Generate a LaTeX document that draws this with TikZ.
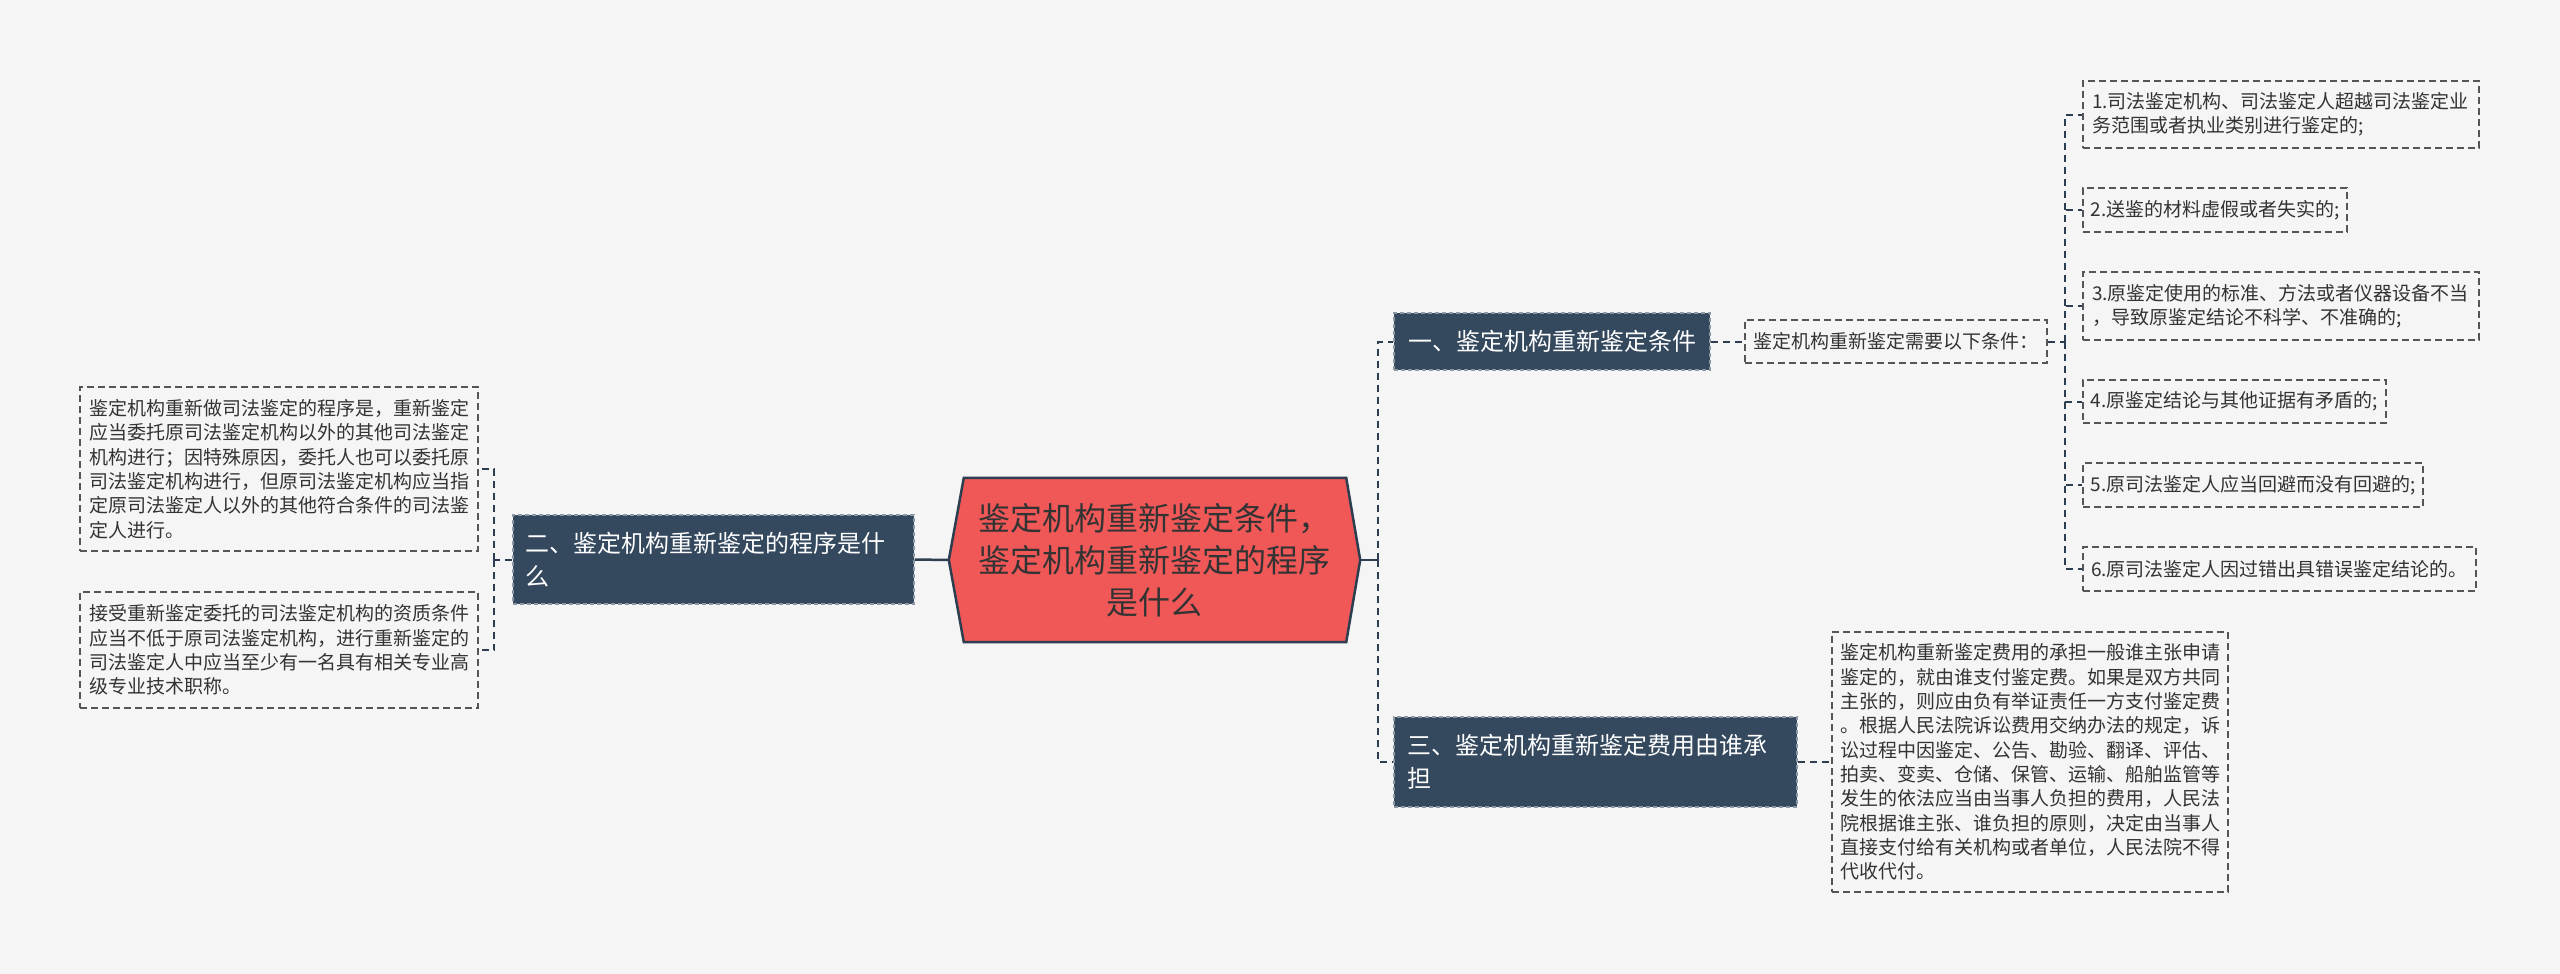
\documentclass[tikz,border=0pt]{standalone}
\usepackage{fontspec}
\newfontfamily\cjk{Noto Sans CJK SC}
\usetikzlibrary{backgrounds}
\definecolor{bgc}{RGB}{245,245,245}
\definecolor{darkfill}{RGB}{52,72,94}
\definecolor{darkline}{RGB}{140,152,166}
\definecolor{redfill}{RGB}{240,88,88}
\definecolor{linec}{RGB}{44,62,80}
\definecolor{leafline}{RGB}{85,85,85}
\definecolor{txt}{RGB}{51,51,51}
\begin{document}
\begin{tikzpicture}[x=1pt,y=-1pt,
  leaf/.style={draw=leafline, line width=1.4pt, dash pattern=on 7pt off 4pt,
    font=\cjk\fontsize{19}{24.3}\selectfont, text=txt, inner sep=0pt, align=left},
  dark/.style={fill=darkfill, draw=darkline, line width=1.2pt, dash pattern=on 4pt off 3pt,
    font=\cjk\fontsize{24}{33}\selectfont, text=white, inner sep=0pt, align=left},
  conn/.style={draw=linec, line width=2pt, dash pattern=on 7pt off 5pt},
  solidc/.style={draw=linec, line width=2.5pt}]
\begin{pgfonlayer}{background}
\fill[bgc] (0,0) rectangle (2560,974);
\end{pgfonlayer}
\useasboundingbox (0,0) rectangle (2560,974);

% center
\node[minimum width=411pt, minimum height=164pt, inner sep=0pt, align=center,
  font=\cjk\fontsize{32}{42}\selectfont, text=txt] (c) at (1154.5,560)
  {鉴定机构重新鉴定条件，\\鉴定机构重新鉴定的程序\\是什么};
\begin{pgfonlayer}{background}
\draw[linec, line width=2.5pt, fill=redfill, line join=miter]
  (c.west) -- ([xshift=15pt]c.north west) -- ([xshift=-14pt]c.north east) -- (c.east)
  -- ([xshift=-14pt]c.south east) -- ([xshift=15pt]c.south west) -- cycle;
\end{pgfonlayer}

% left branch
\node[dark, minimum width=401pt, minimum height=89pt, text width=377pt] (n2) at (713.5,559.5)
  {二、鉴定机构重新鉴定的程序是什\\么};
\node[leaf, minimum width=398pt, minimum height=164pt, text width=380pt] (l1) at (279,469)
  {鉴定机构重新做司法鉴定的程序是，重新鉴定\\应当委托原司法鉴定机构以外的其他司法鉴定\\机构进行；因特殊原因，委托人也可以委托原\\司法鉴定机构进行，但原司法鉴定机构应当指\\定原司法鉴定人以外的其他符合条件的司法鉴\\定人进行。};
\node[leaf, minimum width=398pt, minimum height=116pt, text width=380pt] (l2) at (279,650)
  {接受重新鉴定委托的司法鉴定机构的资质条件\\应当不低于原司法鉴定机构，进行重新鉴定的\\司法鉴定人中应当至少有一名具有相关专业高\\级专业技术职称。};

% right branch
\node[dark, minimum width=316pt, minimum height=57pt] (n1) at (1552,341.5)
  {一、鉴定机构重新鉴定条件};
\node[leaf, minimum width=302pt, minimum height=43pt] (m) at (1896,341.5)
  {鉴定机构重新鉴定需要以下条件：};
\node[leaf, minimum width=396pt, minimum height=67pt, text width=378pt] (r1) at (2281,114.5)
  {1.司法鉴定机构、司法鉴定人超越司法鉴定业\\务范围或者执业类别进行鉴定的;};
\node[leaf, minimum width=264pt, minimum height=44pt] (r2) at (2215,210)
  {2.送鉴的材料虚假或者失实的;};
\node[leaf, minimum width=396pt, minimum height=68pt, text width=378pt] (r3) at (2281,306)
  {3.原鉴定使用的标准、方法或者仪器设备不当\\，导致原鉴定结论不科学、不准确的;};
\node[leaf, minimum width=303pt, minimum height=43pt] (r4) at (2234.5,401.5)
  {4.原鉴定结论与其他证据有矛盾的;};
\node[leaf, minimum width=340pt, minimum height=44pt] (r5) at (2253,485)
  {5.原司法鉴定人应当回避而没有回避的;};
\node[leaf, minimum width=393pt, minimum height=44pt] (r6) at (2279.5,569)
  {6.原司法鉴定人因过错出具错误鉴定结论的。};

\node[dark, minimum width=403pt, minimum height=90pt, text width=377pt] (n3) at (1595.5,762)
  {三、鉴定机构重新鉴定费用由谁承\\担};
\node[leaf, minimum width=396pt, minimum height=260pt, text width=380pt] (t3) at (2030,762)
  {鉴定机构重新鉴定费用的承担一般谁主张申请\\鉴定的，就由谁支付鉴定费。如果是双方共同\\主张的，则应由负有举证责任一方支付鉴定费\\。根据人民法院诉讼费用交纳办法的规定，诉\\讼过程中因鉴定、公告、勘验、翻译、评估、\\拍卖、变卖、仓储、保管、运输、船舶监管等\\发生的依法应当由当事人负担的费用，人民法\\院根据谁主张、谁负担的原则，决定由当事人\\直接支付给有关机构或者单位，人民法院不得\\代收代付。};

% junctions
\coordinate (jl) at (494,559.5);
\coordinate (jr) at (1378,560);
\coordinate (jm) at (2065,341.5);

% connectors
\draw[solidc] (c.west) -- (n2.east);
\draw[conn] (n2.west) -- (jl);
\draw[conn] (jl) |- (l1.east);
\draw[conn] (jl) |- (l2.east);
\draw[solidc] (c.east) -- (jr);
\draw[conn] (jr) |- (n1.west);
\draw[conn] (jr) |- (n3.west);
\draw[conn] (n1.east) -- (m.west);
\draw[conn] (m.east) -- (jm);
\foreach \i in {1,...,6} {\draw[conn] (jm) |- (r\i.west);}
\draw[conn] (n3.east) -- (t3.west);
\end{tikzpicture}
\end{document}
